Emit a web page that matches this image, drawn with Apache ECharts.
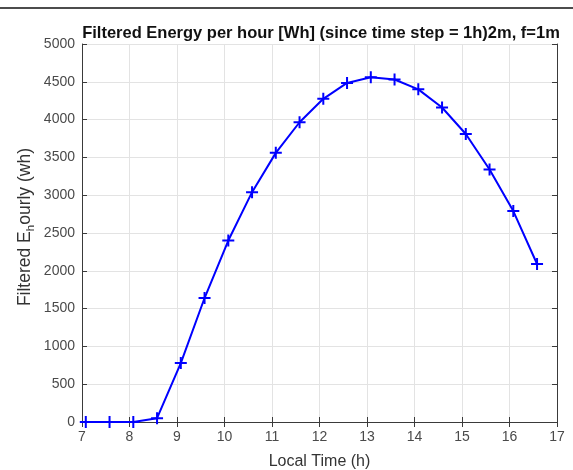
<!DOCTYPE html>
<html>
<head>
<meta charset="utf-8">
<script src="https://cdn.jsdelivr.net/npm/echarts@6/dist/echarts.min.js"></script>
<style>html,body{margin:0;padding:0;background:#fff}#c{width:573px;height:470px}</style>
</head>
<body>
<div id="c"></div>
<script>
var times = [7.08, 7.58, 8.08, 8.58, 9.08, 9.58, 10.08, 10.58, 11.08, 11.58, 12.08, 12.58, 13.08, 13.58, 14.08, 14.58, 15.08, 15.58, 16.08, 16.58];
var energy = [0, 0, 0, 50, 780, 1640, 2400, 3040, 3560, 3965, 4275, 4485, 4560, 4530, 4400, 4160, 3810, 3340, 2790, 2090];
var xTicks = [7, 8, 9, 10, 11, 12, 13, 14, 15, 16, 17];
var yTicks = [0, 500, 1000, 1500, 2000, 2500, 3000, 3500, 4000, 4500, 5000];
var titleText = 'Filtered Energy per hour [Wh] (since time step = 1h)2m, f=1m';
var xName = 'Local Time (h)';

var chart = echarts.init(document.getElementById('c'), null, {renderer: 'canvas'});
var axisCol = '#3a3a3a';
var labCol = '#4a4a4a';
var ff = 'Liberation Sans, Arial';
var plus = 'path://M0,5L12,5L12,7L0,7Z M5,0L7,0L7,12L5,12Z';
var data = times.map(function (t, i) { return [t, energy[i]]; });
chart.setOption({
  animation: false,
  backgroundColor: '#fff',
  title: {
    text: titleText, left: 316, top: 20, textAlign: 'center',
    textStyle: {fontFamily: ff, fontSize: 16.5, fontWeight: 'bold', color: '#111'}
  },
  grid: {left: 82, right: 16, top: 44, bottom: 48, containLabel: false, outerBoundsMode: 'none'},
  xAxis: [{
    type: 'value', min: xTicks[0], max: xTicks[xTicks.length - 1], interval: 1,
    name: xName, nameLocation: 'middle', nameGap: 32,
    nameTextStyle: {fontFamily: ff, fontSize: 16, color: '#333'},
    axisLine: {lineStyle: {color: axisCol, width: 1}},
    axisTick: {inside: true, length: 5, lineStyle: {color: axisCol}},
    axisLabel: {fontFamily: ff, fontSize: 14, color: labCol, margin: 8, formatter: function (v) { return String(v); }},
    splitLine: {show: true, lineStyle: {color: '#e3e3e3', width: 1}}
  }, {
    type: 'value', position: 'top', min: xTicks[0], max: xTicks[xTicks.length - 1], interval: 1,
    axisLine: {lineStyle: {color: axisCol}}, axisTick: {inside: true, length: 5, lineStyle: {color: axisCol}},
    axisLabel: {show: false}, splitLine: {show: false}
  }],
  yAxis: [{
    type: 'value', min: yTicks[0], max: yTicks[yTicks.length - 1], interval: 500,
    axisLine: {show: true, lineStyle: {color: axisCol, width: 1}},
    axisTick: {show: true, inside: true, length: 5, lineStyle: {color: axisCol}},
    axisLabel: {fontFamily: ff, fontSize: 14, color: labCol, margin: 7, formatter: function (v) { return String(v); }},
    splitLine: {show: true, lineStyle: {color: '#e3e3e3', width: 1}}
  }, {
    type: 'value', position: 'right', min: yTicks[0], max: yTicks[yTicks.length - 1], interval: 500,
    axisLine: {show: true, lineStyle: {color: axisCol}},
    axisTick: {show: true, inside: true, length: 5, lineStyle: {color: axisCol}},
    axisLabel: {show: false}, splitLine: {show: false}
  }],
  graphic: [
    {type: 'line', shape: {x1: 0, y1: 8, x2: 573, y2: 8}, style: {stroke: '#111', lineWidth: 1.5}},
    {type: 'text', left: 16, top: 148, rotation: Math.PI / 2,
     style: {
       text: '{a|Filtered E}{s|h}{a|ourly (wh)}',
       rich: {
         a: {fontFamily: ff, fontSize: 17.5, fill: '#333'},
         s: {fontFamily: ff, fontSize: 11.5, fill: '#333', padding: [12, 0, 0, 0]}
       }
     }}
  ],
  series: [{
    type: 'line', data: data, xAxisIndex: 0, yAxisIndex: 0,
    lineStyle: {color: '#0000ff', width: 2},
    itemStyle: {color: '#0000ff'},
    symbol: plus, symbolSize: 12, showSymbol: true
  }]
});
</script>
</body>
</html>
